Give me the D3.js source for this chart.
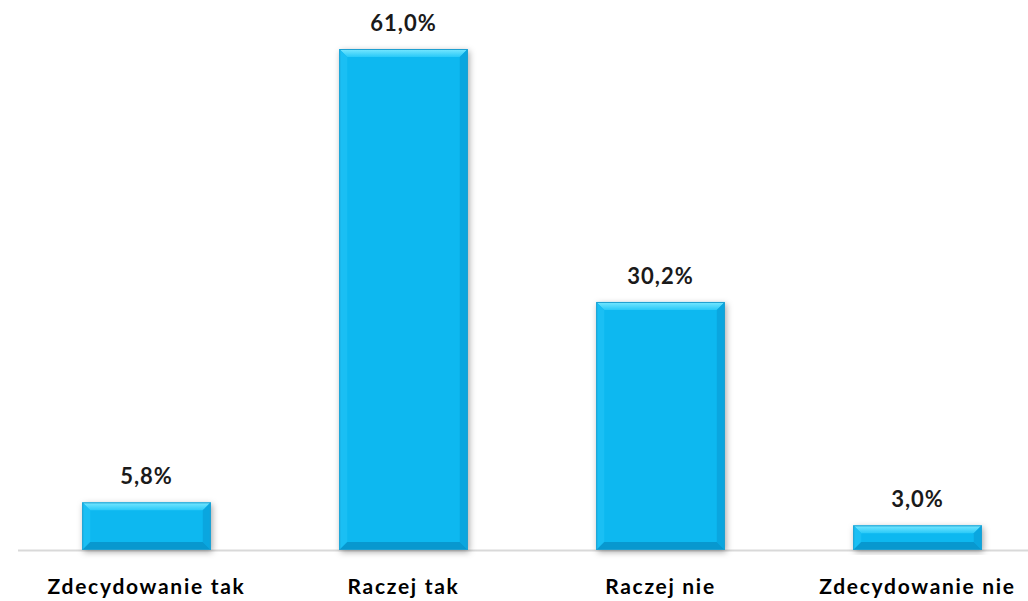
<!DOCTYPE html>
<html><head><meta charset="utf-8">
<script src="https://cdn.jsdelivr.net/npm/d3@7"></script>
<style>body{margin:0;background:#fff}svg{display:block}</style>
</head><body>
<script>
const categories = ["Zdecydowanie tak", "Raczej tak", "Raczej nie", "Zdecydowanie nie"];
const values = [5.8, 61.0, 30.2, 3.0];
const valueLabels = ["5,8%", "61,0%", "30,2%", "3,0%"];

const W = 1028, H = 601;
const svg = d3.select("body").append("svg").attr("width", W).attr("height", H);
const defs = svg.append("defs");
const f = defs.append("filter").attr("id","sh").attr("x","-20%").attr("y","-20%").attr("width","140%").attr("height","140%");
f.append("feDropShadow").attr("dx",1.5).attr("dy",2).attr("stdDeviation",3).attr("flood-color","#000").attr("flood-opacity",0.35);
const tg = defs.append("linearGradient").attr("id","topb").attr("x1",0).attr("y1",0).attr("x2",0).attr("y2",1);
tg.append("stop").attr("offset","0%").attr("stop-color","#7ae8ff");
tg.append("stop").attr("offset","100%").attr("stop-color","#28c9f8");

const x = d3.scaleBand().domain(categories).range([18, 1046]).paddingInner(0.5).paddingOuter(0.25);
const y = d3.scaleLinear().domain([0, 61]).range([550, 49]);

svg.append("line").attr("x1",18).attr("x2",W).attr("y1",y(0)+0.5).attr("y2",y(0)+0.5)
  .attr("stroke","#d9d9d9").attr("stroke-width",2);

const data = categories.map((c,i)=>({c, v:values[i], l:valueLabels[i]}));
const g = svg.selectAll("g.bar").data(data).join("g").attr("class","bar");
const b = 8;
const font = "Lato, 'Open Sans', sans-serif";
g.each(function(d){
  const s = d3.select(this);
  const x0 = x(d.c), x1 = x0 + x.bandwidth(), y0 = y(d.v), y1 = y(0);
  const bb = Math.min(b, (y1-y0)/2);
  s.append("rect").attr("x",x0).attr("y",y0).attr("width",x1-x0).attr("height",y1-y0)
    .attr("fill","#0fb8f0").attr("filter","url(#sh)");
  s.append("polygon").attr("points",[[x0,y0],[x1,y0],[x1-bb,y0+bb],[x0+bb,y0+bb]].join(" ")).attr("fill","url(#topb)");
  s.append("polygon").attr("points",[[x0,y0],[x0+bb,y0+bb],[x0+bb,y1-bb],[x0,y1]].join(" ")).attr("fill","#1abff4");
  s.append("polygon").attr("points",[[x1,y0],[x1,y1],[x1-bb,y1-bb],[x1-bb,y0+bb]].join(" ")).attr("fill","#0aa6df");
  s.append("polygon").attr("points",[[x0,y1],[x0+bb,y1-bb],[x1-bb,y1-bb],[x1,y1]].join(" ")).attr("fill","#0898cf");
  s.append("rect").attr("x",x0+0.5).attr("y",y0+0.5).attr("width",x1-x0-1).attr("height",y1-y0-1)
    .attr("fill","none").attr("stroke","#1e9fd0").attr("stroke-width",1);
  s.append("text").attr("x",(x0+x1)/2).attr("y",y0-18).attr("text-anchor","middle")
    .attr("font-family",font).attr("font-weight","bold").attr("font-size",22)
    .attr("letter-spacing",1).attr("fill","#1a1a1a").text(d.l);
  s.append("text").attr("x",(x0+x1)/2).attr("y",594).attr("text-anchor","middle")
    .attr("font-family",font).attr("font-weight","bold").attr("font-size",21)
    .attr("letter-spacing",1.7).attr("fill","#000").text(d.c);
});
</script>
</body></html>
